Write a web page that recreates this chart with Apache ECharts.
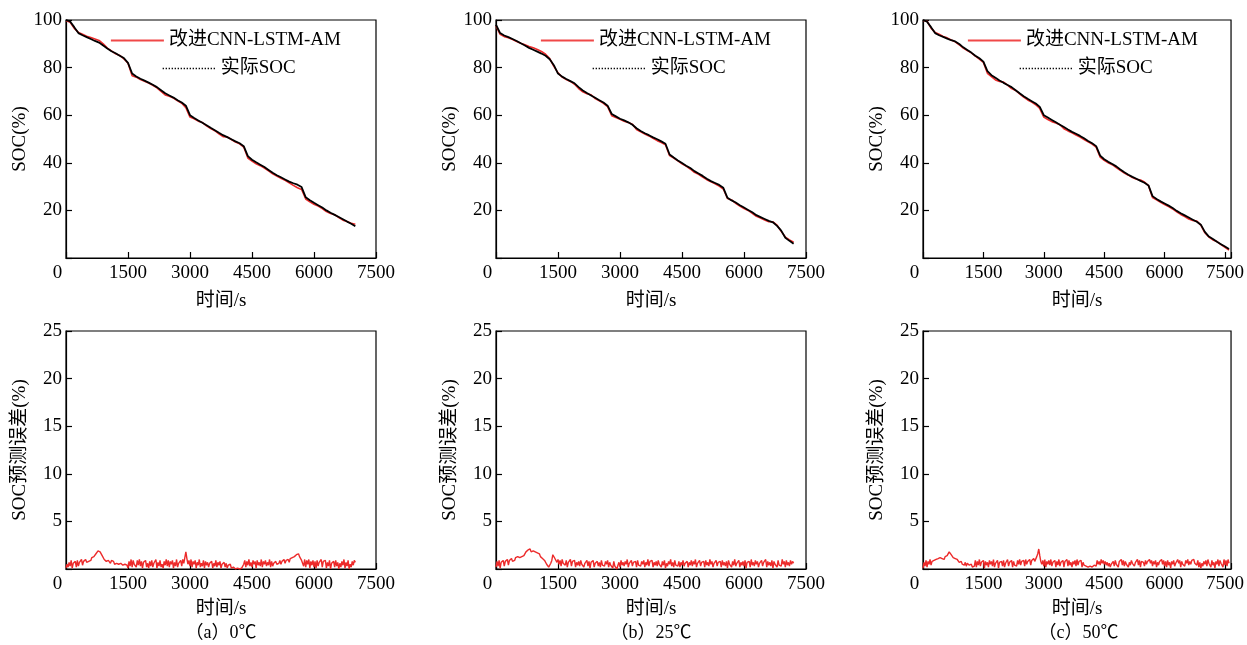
<!DOCTYPE html>
<html><head><meta charset="utf-8">
<script src="https://cdn.jsdelivr.net/npm/echarts@6/dist/echarts.min.js"></script>
<style>html,body{margin:0;padding:0;background:#fff}#c{width:1247px;height:645px}</style>
</head><body><div id="c"></div>
<script>
// ---------- data ----------
const SOC_DT = 100;   // s between SOC samples
const ERR_DT = 25;    // s between error samples
const xTickStep = 1500;
const seriesNames = ['改进CNN-LSTM-AM', '实际SOC'];
const captions = ['（a）0℃', '（b）25℃', '（c）50℃'];
const xMax = [7500, 7500, 7650];

// 0 ℃
const actual0 = [100,99.4,97.0,94.5,93.6,92.8,92.0,91.2,90.5,89.3,88.0,86.9,86.0,85.0,84.0,82.0,77.5,76.3,75.3,74.5,73.7,72.8,71.8,70.5,69.2,68.3,67.4,66.3,65.3,64.0,60.0,58.8,57.8,56.8,55.8,54.7,53.7,52.6,51.6,50.8,49.9,49.0,48.2,47.0,42.8,41.3,40.2,39.2,38.2,37.0,35.8,34.8,33.9,33.0,32.1,31.4,30.8,29.8,25.5,24.3,23.2,22.2,21.2,20.0,19.0,18.1,17.2,16.3,15.3,14.4,13.3];
const pred0 = [99.8,99.0,96.5,94.8,94.0,93.2,92.6,92.0,91.4,90.0,88.2,87.0,85.8,85.1,83.7,81.8,76.6,76.0,75.0,74.3,73.5,72.6,71.5,70.0,68.5,68.0,67.2,66.0,65.0,63.2,59.2,58.5,57.5,56.9,55.5,54.4,53.5,52.2,51.0,50.9,49.8,48.7,48.0,46.6,42.0,40.7,39.6,38.8,37.8,36.6,35.4,34.4,33.5,32.6,31.6,30.5,29.5,28.8,24.8,23.6,22.6,21.8,20.8,19.5,18.7,18.2,17.0,15.9,15.3,14.6,14.2];
const err0 = [
0.1,0.5,0.2,0.7,0.3,0.9,0.1,0.6,0.4,0.8,0.2,0.9,0.3,0.7,0.5,1.0,0.4,0.8,0.6,1.0,
0.7,0.9,0.8,1.0,0.9,1.2,1.1,1.3,1.4,1.6,1.7,1.9,2.0,1.8,1.6,1.4,1.2,1.0,0.9,0.8,
0.7,0.9,0.8,0.6,0.9,0.7,0.8,0.5,0.7,0.6,0.8,0.5,0.7,0.6,0.7,0.4,0.6,0.5,0.6,0.4,
0.1,0.8,0.3,1.0,0.2,0.9,0.5,0.7,0.2,0.9,0.4,1.0,0.3,0.8,0.1,0.7,0.5,0.9,0.2,0.6,
0.1,0.8,0.3,0.9,0.2,0.6,0.4,1.0,0.1,0.7,0.3,0.9,0.2,0.5,0.1,0.8,0.4,1.0,0.3,0.9,
0.2,0.8,0.5,0.9,0.1,0.7,0.3,1.0,0.2,0.6,0.4,0.9,0.3,1.0,0.6,1.2,1.8,1.1,0.5,0.9,
0.3,1.0,0.2,0.8,0.5,0.9,0.1,0.7,0.4,1.0,0.2,0.6,0.3,0.9,0.1,0.8,0.4,0.7,0.2,0.6,
0.5,0.8,0.1,0.6,0.3,0.9,0.2,0.7,0.4,0.8,0.1,0.5,0.3,0.7,0.2,0.6,0.1,0.4,0.3,0.5,
0.1,0.3,0.2,0.4,0.0,0.2,0.1,0.3,0.0,0.2,0.1,0.3,0.5,0.9,0.2,0.8,0.4,1.0,0.3,0.7,
0.2,0.9,0.5,0.8,0.1,0.9,0.4,0.7,0.3,1.0,0.2,0.8,0.5,0.9,0.3,0.7,0.4,1.0,0.2,0.8,
0.3,0.6,0.4,0.8,0.5,0.7,0.6,0.9,0.5,0.8,0.7,1.0,0.6,0.9,0.8,1.0,0.7,1.1,0.9,1.2,
1.1,1.3,1.2,1.5,1.4,1.6,1.3,1.2,0.9,1.1,0.3,1.0,0.2,0.9,0.5,1.0,0.1,0.8,0.4,0.9,
0.2,0.8,0.1,0.9,0.3,0.7,0.5,1.0,0.2,0.8,0.6,0.9,0.1,0.7,0.3,0.9,0.0,0.6,0.4,0.8,
0.2,0.9,0.3,0.7,0.0,0.6,0.2,0.8,0.4,1.0,0.1,0.7,0.3,0.9,0.0,0.5,0.2,0.8,0.4,0.9,
0.7];

// 25 ℃
const actual1 = [98.0,94.5,93.5,92.8,92.0,91.2,90.2,89.3,88.3,87.5,86.7,85.9,85.0,83.5,81.0,77.5,76.2,75.2,74.3,73.4,71.8,70.4,69.3,68.3,67.3,66.3,65.3,64.0,60.5,59.5,58.5,57.8,57.0,56.0,54.5,53.4,52.4,51.6,50.7,49.9,49.0,48.0,43.5,42.2,41.0,39.9,38.8,37.8,36.5,35.5,34.5,33.3,32.3,31.5,30.7,29.5,25.3,24.2,23.3,22.2,21.2,20.2,19.2,18.0,17.2,16.4,15.6,15.0,13.5,11.5,8.5,7.2,6.0];
const pred1 = [97.5,94.0,93.0,92.5,91.8,91.0,90.2,89.6,88.9,88.3,87.6,86.8,85.6,83.8,80.5,77.8,76.0,75.0,74.2,73.0,71.2,69.8,69.0,68.6,67.0,66.0,65.0,63.6,59.8,59.0,58.3,57.5,56.9,56.2,54.0,53.0,52.1,51.3,50.3,49.3,48.5,47.6,43.0,42.0,40.8,39.6,38.6,37.4,36.0,35.2,34.0,32.9,32.0,31.2,30.2,29.0,25.0,24.4,23.0,21.8,20.8,20.0,18.8,17.5,16.8,16.0,15.2,15.2,13.8,11.2,8.8,7.6,6.6];
const err1 = [
0.2,0.8,0.3,0.9,0.1,0.7,0.5,0.9,0.3,0.8,0.6,1.0,0.4,0.9,0.7,1.1,0.8,1.0,0.9,1.2,
1.0,1.3,1.1,1.2,1.4,1.3,1.5,1.4,1.6,1.8,1.7,2.0,1.9,2.1,1.8,2.0,1.9,1.7,1.8,1.6,
1.7,1.5,1.6,1.3,1.4,1.1,1.2,0.9,0.7,0.5,0.3,0.2,0.4,0.6,0.9,1.5,1.3,1.1,0.9,0.7,
1.0,0.5,0.9,0.3,1.0,0.6,0.8,0.4,0.9,0.2,0.7,0.5,1.0,0.3,0.8,0.6,0.9,0.2,0.7,0.4,
0.8,0.3,0.9,0.5,0.7,0.2,0.6,0.4,0.9,0.3,0.8,0.1,0.7,0.5,0.9,0.2,0.6,0.4,0.8,0.3,
0.7,0.2,0.9,0.4,0.6,0.3,0.8,0.5,0.9,0.2,0.7,0.4,0.6,0.1,0.8,0.3,0.5,0.0,0.4,0.7,
0.2,0.9,0.4,0.7,0.3,0.8,0.5,1.0,0.2,0.6,0.4,0.9,0.3,0.7,0.5,0.8,0.2,0.9,0.4,0.6,
0.3,0.8,0.5,0.9,0.2,0.7,0.4,1.0,0.3,0.8,0.6,0.9,0.2,0.7,0.4,0.8,0.3,0.9,0.5,0.7,
0.2,0.8,0.4,0.9,0.1,0.6,0.3,0.8,0.5,1.0,0.3,0.7,0.2,0.9,0.4,0.6,0.3,0.8,0.2,0.7,
0.4,0.9,0.3,0.6,0.5,0.8,0.2,0.7,0.4,0.9,0.3,0.8,0.5,1.0,0.2,0.6,0.4,0.9,0.3,0.7,
0.5,0.8,0.2,0.9,0.4,0.7,0.3,1.0,0.5,0.8,0.2,0.6,0.4,0.9,0.3,0.7,0.5,0.8,0.2,0.9,
0.4,0.7,0.3,0.8,0.1,0.9,0.5,0.7,0.2,0.8,0.4,1.0,0.3,0.6,0.5,0.9,0.2,0.7,0.4,0.8,
0.3,0.9,0.1,0.7,0.5,0.8,0.2,1.0,0.4,0.7,0.3,0.9,0.5,0.8,0.2,0.6,0.4,0.9,0.3,0.7,
0.5,1.0,0.2,0.8,0.4,0.7,0.3,0.9,0.1,0.8,0.5,0.7,0.2,0.9,0.4,0.6,0.3,1.0,0.5,0.8,
0.2,0.9,0.4,0.7,0.3,0.9,0.5,0.8,0.6];

// 50 ℃
const actual2 = [100,99.3,97.0,94.5,93.6,92.9,92.2,91.5,91.0,89.9,88.5,87.4,86.3,85.0,83.9,82.5,78.5,76.8,75.7,74.6,73.6,72.7,71.8,70.5,69.2,68.0,66.9,65.9,64.9,63.5,60.0,59.0,58.0,57.0,56.0,55.0,54.0,53.0,52.2,51.3,50.3,49.2,48.2,47.0,43.0,41.5,40.4,39.5,38.5,37.2,36.0,35.0,34.1,33.3,32.4,31.6,30.5,26.0,24.8,23.8,22.9,22.0,21.0,19.8,18.8,17.9,17.0,16.1,15.2,14.0,11.0,9.0,8.0,6.8,5.8,4.8,3.8];
const pred2 = [99.8,99.5,96.6,94.8,94.0,93.1,92.5,91.6,90.8,89.6,88.2,87.2,86.2,84.8,83.6,82.2,77.6,76.2,74.8,74.2,73.9,72.6,71.2,70.4,69.0,67.6,66.4,65.5,64.4,62.8,59.2,58.2,57.3,56.7,56.0,54.3,53.4,52.6,51.7,50.8,49.8,48.8,47.9,46.6,42.4,41.0,40.0,39.2,38.0,36.8,35.7,34.8,33.8,33.1,32.8,31.9,30.4,25.4,24.4,23.4,22.5,21.6,20.6,19.4,18.3,17.4,16.4,15.8,15.5,13.8,10.6,8.8,7.6,6.9,5.6,4.5,3.3];
const err2 = [
0.1,0.7,0.3,0.9,0.2,0.8,0.5,1.0,0.4,0.8,0.6,0.9,0.7,1.0,0.8,1.1,0.9,1.2,1.0,1.1,
1.2,1.0,1.3,1.1,1.4,1.6,1.8,1.7,1.5,1.4,1.2,1.3,1.1,0.9,1.0,0.8,0.7,0.6,0.8,0.5,
0.6,0.4,0.7,0.3,0.6,0.5,0.4,0.3,0.5,0.2,0.4,0.3,0.9,0.2,0.8,0.4,1.0,0.3,0.7,0.5,
0.9,0.1,0.8,0.4,0.7,0.2,0.9,0.5,0.8,0.3,1.0,0.2,0.6,0.4,0.9,0.1,0.7,0.5,0.8,0.3,
0.9,0.2,0.6,0.4,1.0,0.3,0.7,0.5,0.9,0.2,0.8,0.4,0.6,0.3,0.9,0.5,1.0,0.4,0.8,0.6,
0.9,0.3,1.0,0.5,0.8,0.6,1.0,0.4,0.9,0.7,1.1,0.8,1.0,1.3,1.6,2.1,1.4,0.8,0.5,0.9,
0.3,1.0,0.2,0.8,0.5,0.9,0.4,1.0,0.3,0.7,0.6,0.9,0.2,0.8,0.4,1.0,0.3,0.7,0.5,0.9,
0.2,0.8,0.6,1.0,0.3,0.9,0.4,0.7,0.2,0.8,0.5,0.9,0.3,1.0,0.4,0.8,0.6,0.9,0.2,0.7,
0.4,0.6,0.3,0.5,0.2,0.4,0.3,0.5,0.2,0.3,0.4,0.6,0.3,0.9,0.5,0.8,0.4,1.0,0.6,0.9,
0.5,0.8,0.4,0.7,0.3,0.6,0.2,0.5,0.4,0.8,0.3,0.9,0.5,0.7,0.2,0.8,0.6,1.0,0.4,0.9,
0.3,0.8,0.5,0.6,0.2,0.7,0.4,0.9,0.6,0.8,0.3,0.7,0.5,1.0,0.4,0.9,0.2,0.8,0.6,0.7,
0.3,0.9,0.5,0.8,0.7,1.0,0.6,0.9,0.3,0.8,0.5,0.9,0.2,0.7,0.4,0.8,0.6,1.0,0.5,0.9,
0.3,0.8,0.2,0.9,0.4,0.7,0.1,0.8,0.5,0.9,0.3,0.6,0.4,1.0,0.6,0.9,0.2,0.8,0.5,0.7,
0.3,0.9,0.6,1.0,0.4,0.8,0.5,0.9,0.7,1.0,0.6,0.8,0.4,0.9,0.2,0.7,0.1,0.6,0.3,0.8,
0.5,0.9,0.3,1.0,0.6,0.8,0.2,0.9,0.4,0.7,0.1,0.8,0.5,1.0,0.3,0.9,0.6,0.8,0.2,1.0,
0.4,0.9,0.3,1.0,0.6];

// ---------- chart ----------
const panels = [
  {actual: actual0, pred: pred0, err: err0},
  {actual: actual1, pred: pred1, err: err1},
  {actual: actual2, pred: pred2, err: err2}
];
const FONT = '"Liberation Serif","Times New Roman","Noto Sans CJK SC",serif';
const RED = '#ec2a2a';
const BLACK = '#000';
const cols = [{left: 66, width: 310}, {left: 496, width: 310}, {left: 923, width: 311}];
const rows = [{top: 20, height: 238}, {top: 331, height: 238}];

const grids = [], xAxes = [], yAxes = [], series = [], legends = [], graphics = [];

function xAxis(g, max, gap) {
  return {
    type: 'value', gridIndex: g, min: 0, max: max, interval: xTickStep,
    name: '时间/s', nameLocation: 'middle', nameGap: gap,
    nameTextStyle: {fontFamily: FONT, fontSize: 19, color: BLACK},
    axisLine: {show: true, lineStyle: {color: BLACK, width: 1.2}},
    axisTick: {show: true, inside: true, length: 6, lineStyle: {color: BLACK, width: 1.2}},
    axisLabel: {
      margin: 6, fontFamily: FONT, fontSize: 19, color: BLACK,
      formatter: v => v === 0 ? '{z|0}' : (v % xTickStep === 0 ? String(v) : ''),
      rich: {z: {padding: [0, 17, 0, 0], fontFamily: FONT, fontSize: 19, color: BLACK}}
    },
    splitLine: {show: false}
  };
}
function yAxis(g, max, step, name) {
  return {
    type: 'value', gridIndex: g, min: 0, max: max, interval: step,
    name: name, nameLocation: 'middle', nameGap: 36,
    nameTextStyle: {fontFamily: FONT, fontSize: 19, color: BLACK},
    axisLine: {show: true, lineStyle: {color: BLACK, width: 1.2}},
    axisTick: {show: true, inside: true, length: 6, lineStyle: {color: BLACK, width: 1.2}},
    axisLabel: {margin: 4, fontFamily: FONT, fontSize: 19, color: BLACK,
      formatter: v => v === 0 ? '' : String(v)},
    splitLine: {show: false}
  };
}

panels.forEach((p, i) => {
  const c = cols[i];
  rows.forEach((r, k) => {
    grids.push({left: c.left, width: c.width, top: r.top, height: r.height,
      show: true, borderColor: BLACK, borderWidth: 1.2, backgroundColor: 'transparent'});
    const g = 2 * i + k;
    xAxes.push(xAxis(g, xMax[i], k === 0 ? 34 : 31));
    yAxes.push(k === 0 ? yAxis(g, 100, 20, 'SOC(%)') : yAxis(g, 25, 5, 'SOC预测误差(%)'));
  });
  const gTop = 2 * i, gBot = 2 * i + 1;
  series.push({
    type: 'line', name: seriesNames[0], xAxisIndex: gTop, yAxisIndex: gTop,
    data: p.pred.map((v, j) => [j * SOC_DT, v]), symbol: 'none', showSymbol: false,
    lineStyle: {color: RED, width: 1.6}, itemStyle: {color: RED}, z: 2
  });
  series.push({
    type: 'line', name: seriesNames[1], xAxisIndex: gTop, yAxisIndex: gTop,
    data: p.actual.map((v, j) => [j * SOC_DT, v]), symbol: 'none', showSymbol: false,
    lineStyle: {color: BLACK, width: 1.8}, itemStyle: {color: BLACK}, z: 3
  });
  series.push({
    type: 'line', name: 'err' + i, xAxisIndex: gBot, yAxisIndex: gBot,
    data: p.err.map((v, j) => [j * ERR_DT, v]), symbol: 'none', showSymbol: false,
    lineStyle: {color: RED, width: 1.4}, itemStyle: {color: RED}, z: 2
  });
  legends.push({
    data: [seriesNames[0]], left: c.left + 44, top: 31, padding: 0,
    itemWidth: 53, itemHeight: 14,
    textStyle: {fontFamily: FONT, fontSize: 19, color: BLACK},
    itemStyle: {opacity: 0},
    lineStyle: {width: 1.8, color: '#f04848'}
  });
  legends.push({
    data: [seriesNames[1]], left: c.left + 96, top: 59, padding: 0,
    itemWidth: 53, itemHeight: 14,
    textStyle: {fontFamily: FONT, fontSize: 19, color: BLACK},
    itemStyle: {opacity: 0},
    lineStyle: {width: 1.3, type: [1.3, 1.7]}
  });
  graphics.push({
    type: 'text', x: c.left + c.width / 2, y: 633,
    style: {text: captions[i], textAlign: 'center', textVerticalAlign: 'middle',
      font: '18px ' + FONT, fill: BLACK}
  });
});

const chart = echarts.init(document.getElementById('c'), null, {renderer: 'canvas'});
chart.setOption({
  animation: false,
  backgroundColor: '#fff',
  grid: grids, xAxis: xAxes, yAxis: yAxes, series: series,
  legend: legends, graphic: graphics
});
</script>
</body></html>
